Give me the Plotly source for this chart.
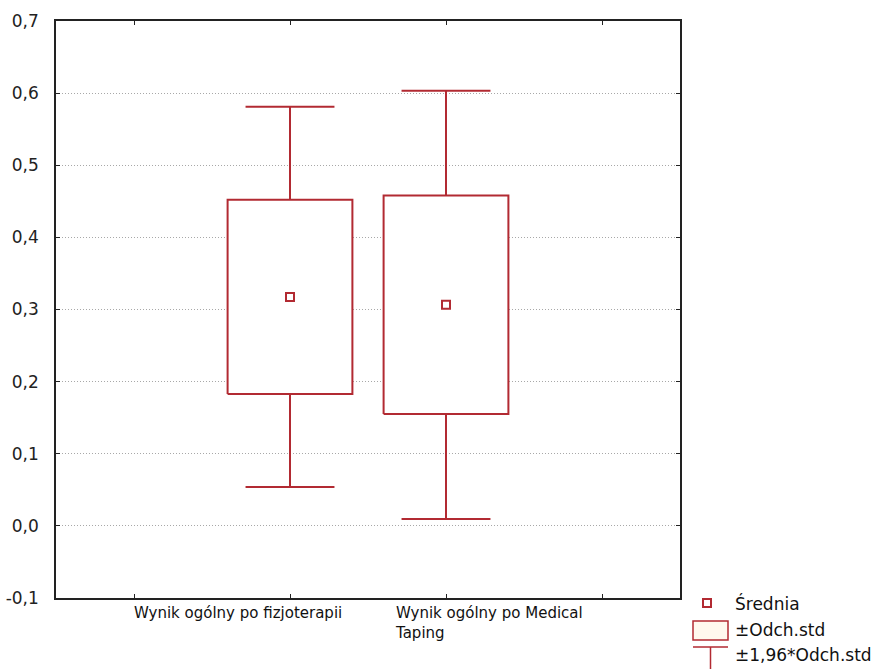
import plotly.graph_objects as go

categories = ["Wynik ogólny po fizjoterapii", "Wynik ogólny po Medical<br>Taping"]
x_pos = [1, 2]
means = [0.3175, 0.3065]
sds = [0.1345, 0.1515]
factor = 1.96
y_ticks = [-0.1, 0.0, 0.1, 0.2, 0.3, 0.4, 0.5, 0.6, 0.7]
y_ticktext = ["-0,1", "0,0", "0,1", "0,2", "0,3", "0,4", "0,5", "0,6", "0,7"]
legend_labels = ["Średnia", "±Odch.std", "±1,96*Odch.std"]

RED = "#B22A32"
FONT = "DejaVu Sans, Arial"
box_hw = 0.4
cap_hw = 0.285

fig = go.Figure()

for x, m, s in zip(x_pos, means, sds):
    lo_w, hi_w = m - factor * s, m + factor * s
    lo_b, hi_b = m - s, m + s
    fig.add_trace(go.Scatter(
        x=[x, x, None, x, x, None, x - cap_hw, x + cap_hw, None, x - cap_hw, x + cap_hw],
        y=[hi_b, hi_w, None, lo_b, lo_w, None, hi_w, hi_w, None, lo_w, lo_w],
        mode="lines", line=dict(color=RED, width=2), showlegend=False, hoverinfo="skip"))
    fig.add_trace(go.Scatter(
        x=[x - box_hw, x + box_hw, x + box_hw, x - box_hw, x - box_hw],
        y=[lo_b, lo_b, hi_b, hi_b, lo_b],
        mode="lines", fill="toself", fillcolor="white",
        line=dict(color=RED, width=2), showlegend=False, hoverinfo="skip"))

fig.add_trace(go.Scatter(
    x=x_pos, y=means, mode="markers",
    marker=dict(symbol="square", size=8, color="white", line=dict(color=RED, width=2)),
    showlegend=False))

label_x = [-0.01, 1.66]
annotations = []
for lx, txt in zip(label_x, categories):
    annotations.append(dict(x=lx, y=0, xref="x", yref="paper", yanchor="top", xanchor="left",
                            yshift=-4, text=txt, showarrow=False, align="left",
                            font=dict(family=FONT, size=15, color="#111")))

W, H = 883, 669
L, R, T, B = 56, 203, 21, 71
pw, ph = W - L - R, H - T - B
def px(xp):
    return (xp - L) / pw
def py(yp):
    return (H - B - yp) / ph

shapes = []
shapes.append(dict(type="rect", xref="paper", yref="paper",
                   x0=px(703), x1=px(711), y0=py(607), y1=py(599),
                   line=dict(color=RED, width=2), fillcolor="white"))
shapes.append(dict(type="rect", xref="paper", yref="paper",
                   x0=px(693), x1=px(728), y0=py(640), y1=py(621),
                   line=dict(color=RED, width=1.5), fillcolor="#FFF8EE"))
shapes.append(dict(type="line", xref="paper", yref="paper",
                   x0=px(693), x1=px(728), y0=py(647), y1=py(647),
                   line=dict(color=RED, width=1.5)))
shapes.append(dict(type="line", xref="paper", yref="paper",
                   x0=px(710.5), x1=px(710.5), y0=py(647), y1=py(669),
                   line=dict(color=RED, width=1.5)))
for lbl, yy in zip(legend_labels, [603, 630, 655]):
    annotations.append(dict(x=px(733), y=py(yy), xref="paper", yref="paper",
                            xanchor="left", yanchor="middle", text=lbl, showarrow=False,
                            font=dict(family=FONT, size=17, color="#111")))

fig.update_layout(
    width=W, height=H,
    margin=dict(l=L, r=R, t=T, b=B),
    paper_bgcolor="white", plot_bgcolor="white",
    showlegend=False,
    shapes=shapes, annotations=annotations,
    font=dict(family=FONT, size=13, color="#111"),
    xaxis=dict(range=[-0.5, 3.5], tickvals=[0, 1, 2, 3], showticklabels=False,
               ticks="inside", ticklen=4, tickcolor="#222", showgrid=False, zeroline=False,
               showline=True, linecolor="#222", linewidth=1.5, mirror="ticks",
               fixedrange=True, automargin=False),
    yaxis=dict(range=[-0.1, 0.7], tickvals=y_ticks, ticktext=y_ticktext,
               ticks="inside", ticklen=4, tickcolor="#222", showgrid=True,
               gridcolor="#a8a8a8", griddash="1px,2px", gridwidth=1, zeroline=False,
               showline=True, linecolor="#222", linewidth=1.5, mirror="ticks",
               automargin=False,
               ticklabelstandoff=12, tickfont=dict(family=FONT, size=17, color="#222")),
)

fig.write_html("out.html")
